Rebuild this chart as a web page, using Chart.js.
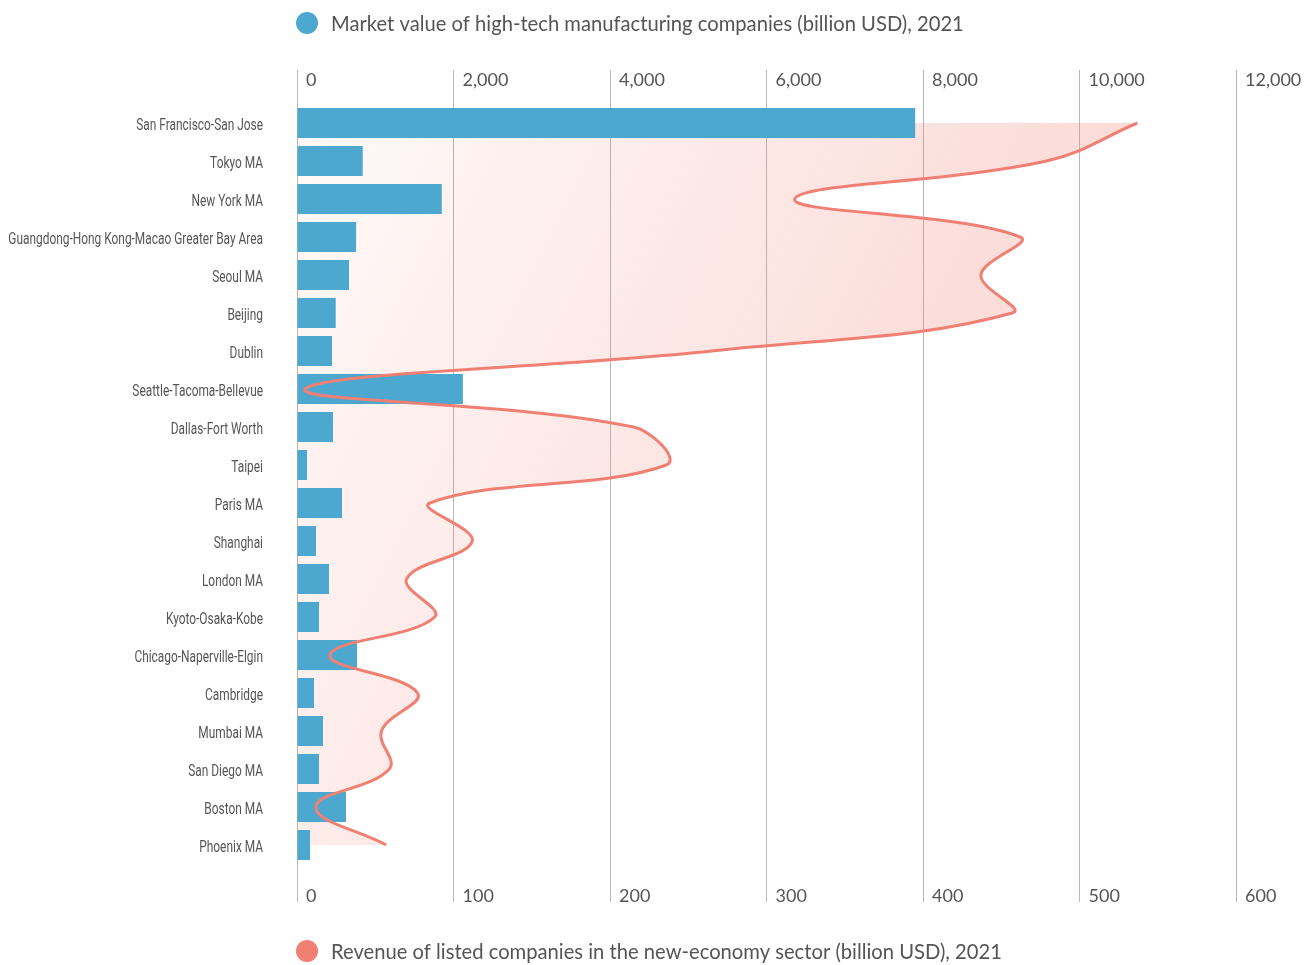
<!DOCTYPE html>
<html>
<head>
<meta charset="utf-8">
<script src="https://cdn.jsdelivr.net/npm/chart.js@4.4.0/dist/chart.umd.min.js"></script>
<style>
  html, body { margin: 0; padding: 0; background: #fff; }
  #grafico { display: block; }
</style>
</head>
<body>
<canvas id="grafico" width="1305" height="965"></canvas>
<script>
// Ciudades, de arriba abajo
const ciudades = [
    'San Francisco-San Jose', 'Tokyo MA', 'New York MA',
    'Guangdong-Hong Kong-Macao Greater Bay Area', 'Seoul MA', 'Beijing', 'Dublin',
    'Seattle-Tacoma-Bellevue', 'Dallas-Fort Worth', 'Taipei', 'Paris MA', 'Shanghai',
    'London MA', 'Kyoto-Osaka-Kobe', 'Chicago-Naperville-Elgin', 'Cambridge',
    'Mumbai MA', 'San Diego MA', 'Boston MA', 'Phoenix MA'
];

// Valor de mercado, manufactura high-tech (miles de millones USD)
const valorMercado = [7900, 840, 1850, 755, 665, 495, 447, 2120, 460, 128,
    575, 243, 409, 281, 767, 217, 332, 281, 626, 166];

// Ingresos de empresas de la nueva economía (miles de millones USD)
const ingresos = [537, 479, 318, 462, 437, 457, 265, 5, 215, 236,
    85, 112, 70, 88, 21, 77, 54, 59, 12, 57];

const etiquetaMercado = 'Market value of high-tech manufacturing companies (billion USD), 2021';
const etiquetaIngresos = 'Revenue of listed companies in the new-economy sector (billion USD), 2021';

const azul = '#4ca8ce';
const salmon = '#f08073';
const gris = '#555555';
const rejilla = '#b8b8b8';

// Eje de categorías con las etiquetas comprimidas a lo ancho (letra estrecha)
class CategoriaEstrecha extends Chart.CategoryScale {
    static id = 'categoriaEstrecha';
    static defaults = Chart.CategoryScale.defaults;
    _computeLabelArea() {
        return undefined; // sin recorte: el texto largo se sale de la caja antes de comprimirlo
    }
    drawLabels(area) {
        const ctx = this.ctx;
        const borde = this.right - this.options.ticks.padding;
        ctx.save();
        ctx.translate(borde, 0);
        ctx.scale(0.70, 1);
        ctx.translate(-borde, 0);
        super.drawLabels(area);
        ctx.restore();
    }
}
Chart.register(CategoriaEstrecha);

// Leyendas: una arriba (barras) y otra abajo (línea)
const leyendas = {
    id: 'leyendas',
    afterDraw(chart) {
        const ctx = chart.ctx;
        const x = chart.chartArea.left + 10;
        const items = [
            { color: azul, texto: etiquetaMercado, y: 23 },
            { color: salmon, texto: etiquetaIngresos, y: 951 }
        ];
        ctx.save();
        ctx.font = '20.2px Lato';
        ctx.textBaseline = 'middle';
        items.forEach(it => {
            ctx.fillStyle = it.color;
            ctx.beginPath();
            ctx.arc(x, it.y, 11, 0, Math.PI * 2);
            ctx.fill();
            ctx.fillStyle = gris;
            ctx.fillText(it.texto, x + 24, it.y + 1);
        });
        ctx.restore();
    }
};

function degradado(c) {
    const area = c.chart.chartArea;
    if (!area) return 'rgba(240,128,115,0.15)';
    const g = c.chart.ctx.createLinearGradient(area.left, area.top, area.left + 800, area.top + 400);
    g.addColorStop(0, 'rgba(240,128,115,0.04)');
    g.addColorStop(1, 'rgba(240,128,115,0.33)');
    return g;
}

const ctx = document.getElementById('grafico').getContext('2d');

new Chart(ctx, {
    data: {
        labels: ciudades,
        datasets: [{
            type: 'bar',
            label: etiquetaMercado,
            data: valorMercado,
            backgroundColor: azul,
            xAxisID: 'x',
            order: 1,
            barPercentage: 0.79,
            categoryPercentage: 1
        }, {
            type: 'line',
            label: etiquetaIngresos,
            data: ingresos,
            borderColor: salmon,
            borderWidth: 3,
            backgroundColor: degradado,
            fill: 'origin',
            tension: 0.4,
            pointRadius: 0,
            xAxisID: 'x2',
            order: 0
        }]
    },
    options: {
        indexAxis: 'y',
        responsive: false,
        animation: false,
        layout: { padding: { left: 0, right: 69, top: 0, bottom: 0 } },
        plugins: {
            legend: { display: false },
            tooltip: { enabled: false },
            filler: { drawTime: 'beforeDatasetsDraw' }
        },
        scales: {
            x: {
                position: 'top',
                min: 0,
                max: 12000,
                border: { display: false },
                grid: { drawOnChartArea: false, tickLength: 34, color: rejilla },
                ticks: {
                    stepSize: 2000,
                    align: 'start',
                    labelOffset: 9,
                    padding: -21,
                    color: gris,
                    font: { family: 'Lato', size: 18 }
                },
                afterFit: (eje) => { eje.height = 104; }
            },
            x2: {
                position: 'bottom',
                min: 0,
                max: 600,
                border: { display: false },
                grid: { tickLength: 38, color: rejilla },
                ticks: {
                    stepSize: 100,
                    align: 'start',
                    labelOffset: 9,
                    padding: -17,
                    color: gris,
                    font: { family: 'Lato', size: 18 }
                },
                afterFit: (eje) => { eje.height = 101; }
            },
            y: {
                type: 'categoriaEstrecha',
                offset: true,
                border: { display: false },
                grid: { display: false, drawTicks: false },
                ticks: {
                    padding: 34,
                    labelOffset: 3,
                    color: gris,
                    font: { family: 'Roboto', size: 17 }
                },
                afterFit: (eje) => { eje.width = 297; }
            }
        }
    },
    plugins: [leyendas]
});
</script>
</body>
</html>
